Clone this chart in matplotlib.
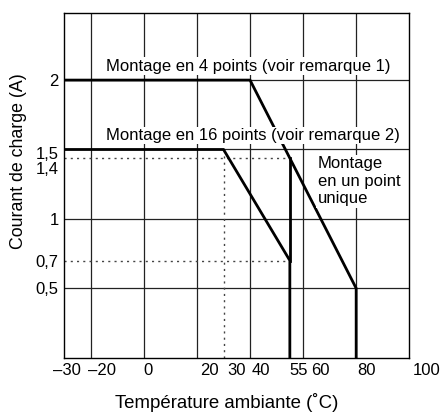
import matplotlib
matplotlib.use("Agg")
import matplotlib.pyplot as plt
import matplotlib.transforms as mtransforms

plt.rcParams['font.family'] = ['Liberation Sans', 'DejaVu Sans']

# ---- data ----
x_ticks = [-30, -20, 0, 20, 30, 40, 55, 60, 80, 100]
x_ticklabels = ["–30", "–20", "0", "20", "30", "40", "55", "60", "80", "100"]
y_ticks = [2, 1.5, 1.4, 1, 0.7, 0.5]
y_ticklabels = ["2", "1,5", "1,4", "1", "0,7", "0,5"]
x_grid = [-20, 0, 20, 40, 60, 80]
y_grid = [0.5, 1, 1.5, 2]

four_pt_x = [-30, 40, 80, 80]
four_pt_y = [2, 2, 0.5, 0]
sixteen_pt_x = [-30, 30, 55, 55]
sixteen_pt_y = [1.5, 1.5, 0.7, 0]
single_pt_x = [55, 55]
single_pt_y = [0.7, 1.44]

dot_h_levels = [1.44, 0.7]
dot_h_end = [55, 55]
dot_v_x = [30]
dot_v_top = [1.5]

label_4 = "Montage en 4 points (voir remarque 1)"
label_16 = "Montage en 16 points (voir remarque 2)"
label_1 = "Montage\nen un point\nunique"

# ---- figure ----
fig = plt.figure(figsize=(4.41, 4.12), dpi=100)
ax = fig.add_axes([0.1458, 0.1318, 0.928 - 0.1458, 0.969 - 0.1318])
ax.set_xlim(-30, 100)
ax.set_ylim(0, 2.485)

for gx in x_grid:
    ax.axvline(gx, color='#222222', lw=0.9, zorder=1)
for gy in y_grid:
    ax.axhline(gy, color='#222222', lw=0.9, zorder=1)

dot_style = dict(color='#444444', lw=1.0, linestyle=(0, (1.5, 3)), zorder=2)
for lvl, xe in zip(dot_h_levels, dot_h_end):
    ax.plot([-30, xe], [lvl, lvl], **dot_style)
for vx, top in zip(dot_v_x, dot_v_top):
    ax.plot([vx, vx], [0, top], **dot_style)

thick = dict(color='black', lw=2.0, solid_joinstyle='miter', zorder=3)
ax.plot(four_pt_x, four_pt_y, **thick)
ax.plot(sixteen_pt_x, sixteen_pt_y, **thick)
ax.plot(single_pt_x, single_pt_y, **thick)

bbox = dict(facecolor='white', edgecolor='none', pad=1.0)
fs = 12
ax.text(-14.3, 2.10, label_4, fontsize=fs, va='center', ha='left', bbox=bbox, zorder=4)
ax.text(-14.3, 1.60, label_16, fontsize=fs, va='center', ha='left', bbox=bbox, zorder=4)
ax.text(65.5, 1.45, label_1, fontsize=fs, va='top', ha='left', linespacing=1.2,
        bbox=bbox, zorder=4)

ax.set_xticks(x_ticks)
ax.set_xticklabels(x_ticklabels, fontsize=fs)
ax.set_yticks(y_ticks)
ax.set_yticklabels(y_ticklabels, fontsize=fs)
ax.tick_params(axis='both', length=0)
ax.tick_params(axis='x', pad=4)
ax.tick_params(axis='y', pad=4)

# visual offsets of tick labels (pixels) to reproduce the original layout
x_off = [3, 11, 4, 12, 13, 11, 9, 17, 10, 17]
for lab, dx in zip(ax.get_xticklabels(), x_off):
    lab.set_transform(lab.get_transform() +
                      mtransforms.ScaledTranslation(dx / 100, 0, fig.dpi_scale_trans))
y_off = [0, -4, -5, 0, 0, 0]
for lab, dy in zip(ax.get_yticklabels(), y_off):
    lab.set_transform(lab.get_transform() +
                      mtransforms.ScaledTranslation(0, dy / 100, fig.dpi_scale_trans))

ax.set_xlabel("Température ambiante (˚C)", fontsize=13.4)
ax.xaxis.set_label_coords(0.470, -0.101)
ax.xaxis.label.set_va('top')
ax.set_ylabel("Courant de charge (A)", fontsize=12.8)
ax.yaxis.set_label_coords(-0.109, 0.570)

for s in ax.spines.values():
    s.set_linewidth(1.0)
    s.set_color('black')

fig.savefig("out.png", dpi=100)
